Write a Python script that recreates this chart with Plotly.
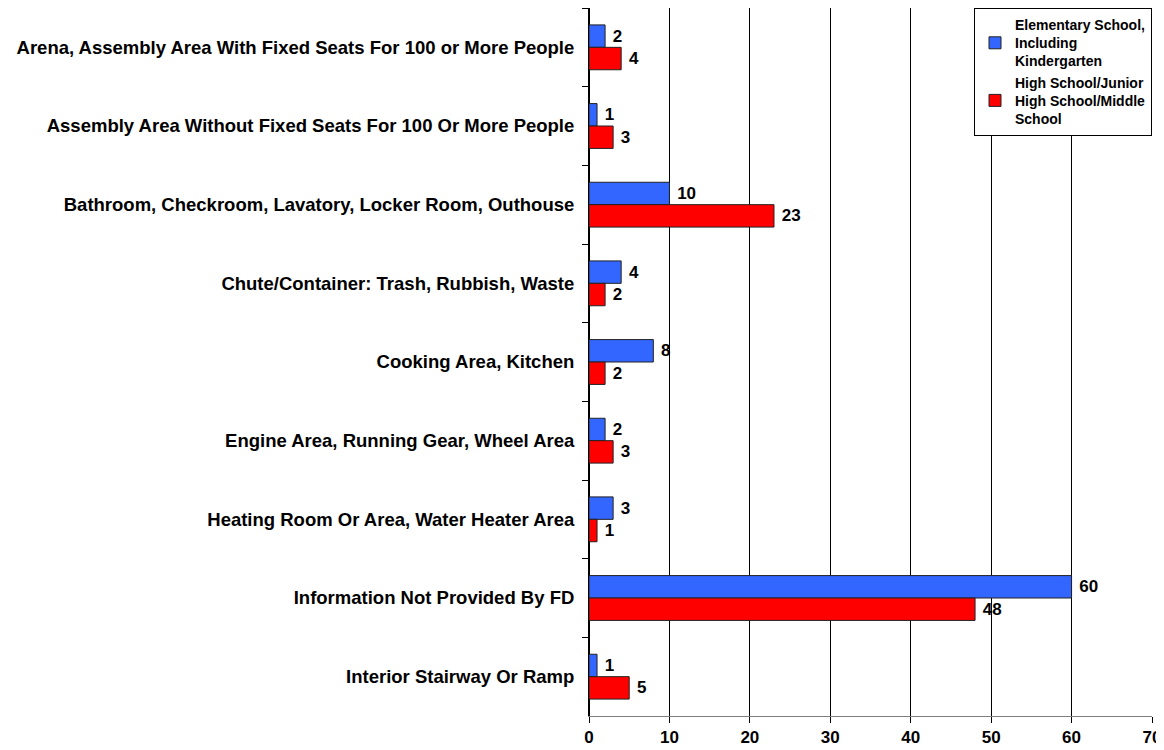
import plotly.graph_objects as go

categories = [
    "Arena, Assembly Area With Fixed Seats For 100 or More People",
    "Assembly Area Without Fixed Seats For 100 Or More People",
    "Bathroom, Checkroom, Lavatory, Locker Room, Outhouse",
    "Chute/Container: Trash, Rubbish, Waste",
    "Cooking Area, Kitchen",
    "Engine Area, Running Gear, Wheel Area",
    "Heating Room Or Area, Water Heater Area",
    "Information Not Provided By FD",
    "Interior Stairway Or Ramp",
]
elementary = [2, 1, 10, 4, 8, 2, 3, 60, 1]
high_school = [4, 3, 23, 2, 2, 3, 1, 48, 5]
series_names = ["Elementary School,<br>Including<br>Kindergarten",
                "High School/Junior<br>High School/Middle<br>School"]
x_ticks = [0, 10, 20, 30, 40, 50, 60, 70]

font = "Liberation Sans, Arial, sans-serif"

fig = go.Figure()
for vals, name, color in [(elementary, series_names[0], "#3366FF"),
                          (high_school, series_names[1], "#FF0000")]:
    fig.add_trace(go.Bar(
        y=categories, x=vals, orientation="h", name=name,
        marker=dict(color=color, line=dict(color="#222222", width=1)),
        texttemplate="\u00a0%{x}", textposition="outside", cliponaxis=False,
        textfont=dict(family=font, size=17, color="black", weight="bold"),
    ))

# page body has an 8px margin, so the figure is offset by 8px
fig.update_layout(
    width=1156, height=742,
    barmode="group", bargap=0.43, bargroupgap=0,
    plot_bgcolor="white", paper_bgcolor="white",
    margin=dict(l=581, r=12, t=0, b=34, autoexpand=False),
    font=dict(family=font, size=13, color="black"),
    showlegend=True,
    legend=dict(
        x=1.0, y=1.0, xanchor="right", yanchor="top",
        bgcolor="white", bordercolor="black", borderwidth=1,
        font=dict(family=font, size=14, color="black", weight="bold"),
        traceorder="normal", itemwidth=30,
        tracegroupgap=2,
    ),
)
fig.update_xaxes(
    range=[0, 70], tickvals=x_ticks,
    showgrid=True, gridcolor="black", gridwidth=1,
    showline=True, linecolor="#808080", linewidth=1, mirror=True,
    ticks="outside", ticklen=6, tickcolor="black",
    ticklabelstandoff=0,
    tickfont=dict(family=font, size=17, color="black", weight="bold"),
    zeroline=True, zerolinecolor="black", zerolinewidth=1,
    automargin=False,
)
fig.update_yaxes(
    categoryorder="array", categoryarray=categories, autorange="reversed",
    showline=True, linecolor="black", linewidth=1,
    ticks="outside", tickson="boundaries", ticklen=6, tickcolor="black",
    ticklabelstandoff=10,
    tickfont=dict(family=font, size=18.5, color="black", weight="bold"),
    showgrid=False, automargin=False,
)

fig.write_html("out.html")
